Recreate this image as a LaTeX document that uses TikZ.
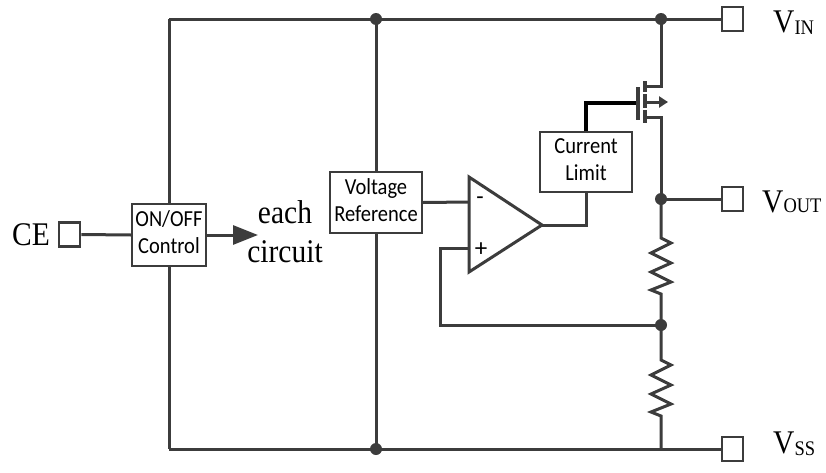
\documentclass[tikz,border=0pt]{standalone}
\usepackage{fontspec}
\setmainfont{Liberation Serif}
\setsansfont{Carlito}
\usetikzlibrary{arrows.meta}
\definecolor{wire}{HTML}{3C3C3C}
\newcommand{\vstr}[1]{\scalebox{1}[1.12]{#1}}
\newcommand{\twoline}[2]{\vstr{\begin{tabular}{@{}c@{}}#1\\#2\end{tabular}}}
\begin{document}
\begin{tikzpicture}[x=1pt,y=-1pt,
  wireline/.style={draw=wire,line width=3pt},
  blockbox/.style={draw=wire,line width=1.5pt,fill=white,inner sep=0pt,
    align=center,font=\sffamily\fontsize{20.5}{24}\selectfont},
  pinbox/.style={draw=wire,line width=2.8pt,fill=white,minimum width=21pt,
    minimum height=24pt,inner sep=0pt},
  junction/.style={circle,fill=wire,inner sep=0pt,minimum size=12pt},
  biglabel/.style={font=\fontsize{29.5}{34}\selectfont,inner sep=0pt},
]
\useasboundingbox (0,0) rectangle (826,472);

% blocks
\node[blockbox,minimum width=74pt,minimum height=62pt] (onoff) at (169,235) {\twoline{ON/OFF}{Control}};
\node[blockbox,minimum width=92pt,minimum height=61pt] (vref) at (376,202.5) {\twoline{Voltage}{Reference}};
\node[blockbox,minimum width=92pt,minimum height=60pt] (climit) at (586,162) {\twoline{Current}{Limit}};

% pins
\node[pinbox] (ce) at (69.5,234.5) {};
\node[pinbox] (vin) at (732.5,19) {};
\node[pinbox] (vout) at (732.5,199) {};
\node[pinbox] (vss) at (732.5,449) {};

% key coordinates
\coordinate (tl) at (169,19);
\coordinate (bl) at (169,449);
\coordinate (tm) at (376,19);
\coordinate (bm) at (376,449);
\coordinate (tr) at (661,19);
\coordinate (br) at (661,449);
\coordinate (jout) at (661,199);
\coordinate (jfb) at (661,325);
\coordinate (opm) at (469,202);
\coordinate (opp) at (469,248);
\coordinate (optop) at (469,177);
\coordinate (opbot) at (469,272);
\coordinate (opout) at (542,225);
\coordinate (arrend) at (258,235);

% rails
\draw[wireline] (tl) -- (vin.west);
\draw[wireline] (bl) -- (vss.west);
\draw[wireline] (tl) -- (onoff.north);
\draw[wireline] (onoff.south) -- (bl);
\draw[wireline] (tm) -- (vref.north);
\draw[wireline] (vref.south) -- (bm);
\draw[wireline] (ce.east) -- (onoff.west);
\draw[wireline,-{Triangle[length=25pt,width=19pt]}] (onoff.east) -- (arrend);

% opamp
\draw[draw=wire,line width=3pt,line join=miter,fill=white] (optop) -- (opout) -- (opbot) -- cycle;
\node[font=\sffamily\fontsize{24}{24}\selectfont,inner sep=0pt] (minus) at (480,201) {-};
\node[font=\sffamily\fontsize{25}{25}\selectfont,inner sep=0pt] (plus) at (481,250) {+};
\draw[wireline] (vref.east) -- (opm);
\draw[wireline] (opp) -- (440,248) -- (440,325) -- (jfb);
\draw[wireline] (opout) -- (586,225) -- (climit.south);

% MOSFET
\coordinate (gate) at (638,103);
\draw[black,line width=3.5pt] (climit.north) -- (586,103) -- (gate);
\draw[wire,line width=4.5pt] (638,87) -- (638,120);
\draw[wire,line width=3.5pt] (645,81) -- (645,92);
\draw[wire,line width=3.5pt] (645,94) -- (645,108);
\draw[wire,line width=3.5pt] (645,110) -- (645,123);
\draw[wireline] (tr) -- (661,86) -- (645,86);
\draw[wireline,-{Triangle[length=9pt,width=11pt]}] (645,102) -- (668,102);
\draw[wireline] (645,117) -- (661,117) -- (jout);

% output column with resistors
\draw[wireline] (jout) -- (vout.west);
\draw[wireline,line join=miter] (jout) -- (661,238) -- (671,243) -- (651,253) -- (671,263)
  -- (651,272) -- (671,282) -- (651,290) -- (661,294) -- (jfb);
\draw[wireline,line join=miter] (jfb) -- (661,360) -- (671,365) -- (651,375) -- (671,385)
  -- (651,394) -- (671,404) -- (651,412) -- (661,416) -- (br);

% junctions
\node[junction] (d1) at (tm) {};
\node[junction] (d2) at (tr) {};
\node[junction] (d3) at (bm) {};
\node[junction] (d4) at (jout) {};
\node[junction] (d5) at (jfb) {};

% labels
\node[biglabel,anchor=base east] (celab) at (50,245) {\vstr{CE}};
\node[biglabel,anchor=base] (each) at (285,223) {\vstr{each}};
\node[biglabel,anchor=base] (circ) at (285,262) {\vstr{circuit}};
\node[biglabel,anchor=base west] (vinlab) at (773,32) {\vstr{V\raisebox{-2pt}{\fontsize{18.5}{19}\selectfont IN}}};
\node[biglabel,anchor=base west] (voutlab) at (762,212) {\vstr{V{\fontsize{18.5}{19}\selectfont OUT}}};
\node[biglabel,anchor=base west] (vsslab) at (773,453) {\vstr{V\raisebox{-2pt}{\fontsize{18.5}{19}\selectfont SS}}};
\end{tikzpicture}
\end{document}
